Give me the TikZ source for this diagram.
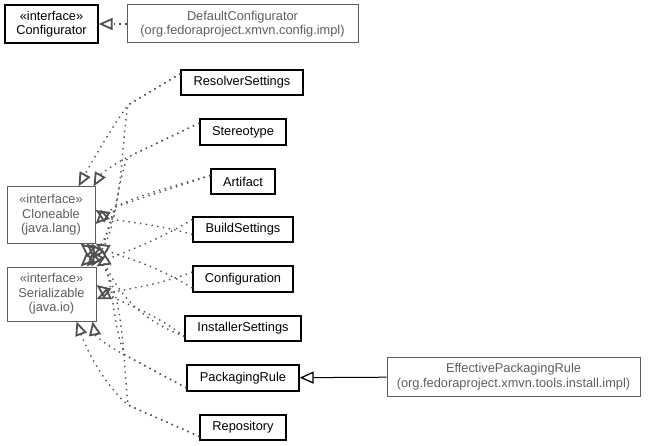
\documentclass[tikz,border=0pt]{standalone}
\usepackage{fontspec}
\setmainfont{Liberation Sans}
\usetikzlibrary{arrows.meta}
\definecolor{extgray}{HTML}{5E5E5E}
\definecolor{edgegray}{HTML}{505050}
\begin{document}
\begin{tikzpicture}[x=1pt,y=-1pt,
  cls/.style={draw=black,line width=1.2pt,text=black,inner sep=0pt,align=center,
    font=\fontsize{12.8}{14.5}\selectfont},
  extcls/.style={cls,draw=extgray,text=extgray,line width=1pt},
  dep/.style={edgegray,line width=1.4pt,dash pattern=on 1.4pt off 4.4pt,
    -{Triangle[open,length=14pt,width=12pt,line width=1.8pt]}},
  ext/.style={black,line width=1pt,-{Triangle[open,length=14pt,width=12pt,line width=1.3pt]}}]
\useasboundingbox (0,0) rectangle (655,446);
\node[cls,minimum width=93pt,minimum height=38pt] (conf) at (51.5,24) {«interface»\\Configurator};
\node[extcls,minimum width=231pt,minimum height=38pt] (defconf) at (242.5,24) {DefaultConfigurator\\(org.fedoraproject.xmvn.config.impl)};
\node[cls,minimum width=122pt,minimum height=25pt] (resolver) at (242,82.5) {ResolverSettings};
\node[cls,minimum width=86pt,minimum height=26pt] (stereo) at (243,132) {Stereotype};
\node[cls,minimum width=64pt,minimum height=25pt] (artifact) at (243,181.5) {Artifact};
\node[cls,minimum width=100pt,minimum height=25pt] (build) at (243,229.5) {BuildSettings};
\node[cls,minimum width=100pt,minimum height=26pt] (configuration) at (243,279) {Configuration};
\node[cls,minimum width=116pt,minimum height=25pt] (installer) at (243,328.5) {InstallerSettings};
\node[cls,minimum width=112pt,minimum height=26pt] (rule) at (243,378) {PackagingRule};
\node[cls,minimum width=86pt,minimum height=25pt] (repo) at (243,427.5) {Repository};
\node[extcls,minimum width=88pt,minimum height=56pt] (cloneable) at (51,215) {«interface»\\Cloneable\\(java.lang)};
\node[extcls,minimum width=89pt,minimum height=54pt] (serializable) at (51.5,294) {«interface»\\Serializable\\(java.io)};
\node[extcls,minimum width=253pt,minimum height=39pt] (effrule) at (513.5,376.5) {EffectivePackagingRule\\(org.fedoraproject.xmvn.tools.install.impl)};
\draw[dep] (defconf) -- (conf);
\draw[ext] (effrule) -- (rule);
\draw[dep] ([yshift=9pt]resolver.west) -- (128,105) .. controls (110,130) and (90,165) .. ([xshift=-17pt]cloneable.north east);
\draw[dep] ([yshift=9pt]resolver.west) -- (128,105) .. controls (120,150) and (125,225) .. ([xshift=-16pt]serializable.north east);
\draw[dep] ([yshift=9pt]stereo.west) -- (128,157) .. controls (112,165) and (100,175) .. ([xshift=-2pt]cloneable.north east);
\draw[dep] ([yshift=9pt]stereo.west) -- (128,157) .. controls (115,185) and (118,235) .. ([xshift=-10pt]serializable.north east);
\draw[dep] ([yshift=6pt]artifact.west) .. controls (160,190) and (120,200) .. ([yshift=-9pt]cloneable.east);
\draw[dep] ([yshift=6pt]artifact.west) -- (115,207) .. controls (108,225) and (105,245) .. ([xshift=-5pt]serializable.north east);
\draw[dep] ([yshift=-5pt]build.west) .. controls (150,222) and (115,222) .. ([yshift=5pt]cloneable.east);
\draw[dep] ([yshift=10pt]build.west) .. controls (150,245) and (115,255) .. (serializable.north east);
\draw[dep] ([yshift=-9pt]configuration.west) .. controls (150,262) and (115,255) .. (cloneable.south east);
\draw[dep] ([yshift=7pt]configuration.west) .. controls (150,288) and (120,289) .. ([yshift=-5pt]serializable.east);
\draw[dep] ([yshift=-8pt]installer.west) .. controls (150,310) and (120,303) .. ([yshift=9pt]serializable.east);
\draw[dep] ([yshift=-8pt]installer.west) .. controls (120,312) and (110,270) .. ([xshift=-4pt]cloneable.south east);
\draw[dep] ([yshift=-10pt]rule.west) -- (125,355) .. controls (105,345) and (95,335) .. ([xshift=-4pt]serializable.south east);
\draw[dep] ([yshift=-10pt]rule.west) -- (125,355) .. controls (110,320) and (115,270) .. ([xshift=-9pt]cloneable.south east);
\draw[dep] ([yshift=-9pt]repo.west) -- (128,405) .. controls (100,380) and (85,345) .. ([xshift=-20pt]serializable.south east);
\draw[dep] ([yshift=-9pt]repo.west) -- (128,405) .. controls (122,350) and (125,280) .. ([xshift=-15pt]cloneable.south east);
\end{tikzpicture}
\end{document}
